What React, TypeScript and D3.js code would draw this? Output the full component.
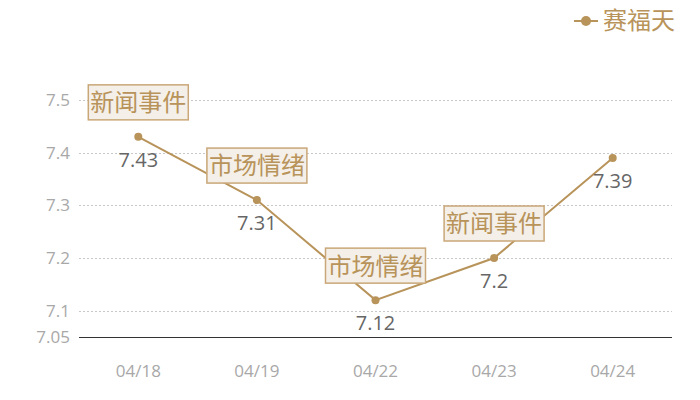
import React, { useEffect, useRef } from 'react';
import * as d3 from 'd3';

const categories = ['04/18', '04/19', '04/22', '04/23', '04/24'];
const values = [7.43, 7.31, 7.12, 7.2, 7.39];
const notes = ['新闻事件', '市场情绪', '市场情绪', '新闻事件', ''];
const yTicks = [7.05, 7.1, 7.2, 7.3, 7.4, 7.5];
const seriesName = '赛福天';

const GOLD = '#b8935a';
const FONT = '"Open Sans", "Noto Sans CJK SC", sans-serif';
const CJK = '"Noto Sans CJK SC", sans-serif';

const App: React.FC = () => {
  const svgRef = useRef<SVGSVGElement>(null);

  useEffect(() => {
    if (!svgRef.current) return;
    const width = 700;
    const height = 400;
    const margin = { top: 100, right: 28, bottom: 63, left: 79 };

    const svg = d3.select(svgRef.current);
    svg.selectAll('*').remove();

    const x = d3.scaleBand()
      .domain(categories)
      .range([margin.left, width - margin.right]);

    const y = d3.scaleLinear()
      .domain([7.05, 7.5])
      .range([height - margin.bottom, margin.top]);

    // grid
    svg.append('g')
      .selectAll('line')
      .data(yTicks.filter(t => t !== 7.05))
      .enter()
      .append('line')
      .attr('x1', margin.left)
      .attr('x2', width - margin.right)
      .attr('y1', d => Math.round(y(d)) + 0.5)
      .attr('y2', d => Math.round(y(d)) + 0.5)
      .attr('stroke', '#c8c8c8')
      .attr('stroke-dasharray', '2,2');

    // baseline
    svg.append('line')
      .attr('x1', margin.left)
      .attr('x2', width - margin.right)
      .attr('y1', Math.round(y(7.05)) + 0.5)
      .attr('y2', Math.round(y(7.05)) + 0.5)
      .attr('stroke', '#333')
      .attr('stroke-width', 1);

    // y labels
    svg.append('g')
      .selectAll('text')
      .data(yTicks)
      .enter()
      .append('text')
      .attr('x', margin.left - 9)
      .attr('y', d => y(d))
      .attr('dy', '0.35em')
      .attr('text-anchor', 'end')
      .attr('fill', '#a8a8a8')
      .attr('font-size', '17px')
      .attr('font-family', FONT)
      .text(d => String(d));

    // x labels
    svg.append('g')
      .selectAll('text')
      .data(categories)
      .enter()
      .append('text')
      .attr('x', d => (x(d) as number) + x.bandwidth() / 2)
      .attr('y', 371)
      .attr('dy', '0.35em')
      .attr('text-anchor', 'middle')
      .attr('fill', '#a8a8a8')
      .attr('font-size', '17px')
      .attr('font-family', FONT)
      .text(d => d);

    const cx = (i: number) => (x(categories[i]) as number) + x.bandwidth() / 2;

    const line = d3.line<number>()
      .x((_, i) => cx(i))
      .y(d => y(d));

    svg.append('path')
      .datum(values)
      .attr('d', line)
      .attr('fill', 'none')
      .attr('stroke', GOLD)
      .attr('stroke-width', 2);

    svg.append('g')
      .selectAll('circle')
      .data(values)
      .enter()
      .append('circle')
      .attr('cx', (_, i) => cx(i))
      .attr('cy', d => y(d))
      .attr('r', 4)
      .attr('fill', GOLD);

    // value labels
    svg.append('g')
      .selectAll('text')
      .data(values)
      .enter()
      .append('text')
      .attr('x', (_, i) => cx(i))
      .attr('y', d => y(d) + 23)
      .attr('dy', '0.35em')
      .attr('text-anchor', 'middle')
      .attr('fill', '#666')
      .attr('font-size', '20px')
      .attr('font-family', FONT)
      .text(d => String(d));

    // note boxes
    const noteG = svg.append('g')
      .selectAll('g')
      .data(values.map((v, i) => ({ v, i, note: notes[i] })).filter(d => d.note))
      .enter()
      .append('g')
      .attr('transform', d => `translate(${cx(d.i)}, ${y(d.v) - 17})`);

    noteG.append('rect')
      .attr('x', -50)
      .attr('y', -35)
      .attr('width', 100)
      .attr('height', 35)
      .attr('fill', '#f4efe8')
      .attr('stroke', '#c9a778')
      .attr('stroke-width', 1.5);

    noteG.append('text')
      .attr('x', 0)
      .attr('y', -17)
      .attr('dy', '0.35em')
      .attr('text-anchor', 'middle')
      .attr('fill', GOLD)
      .attr('font-size', '24px')
      .attr('font-family', CJK)
      .text(d => d.note);

    // legend
    const lg = svg.append('g').attr('transform', 'translate(574, 21)');
    lg.append('line')
      .attr('x1', 0).attr('x2', 24)
      .attr('y1', 0).attr('y2', 0)
      .attr('stroke', GOLD)
      .attr('stroke-width', 2);
    lg.append('circle')
      .attr('cx', 12).attr('cy', 0).attr('r', 5)
      .attr('fill', GOLD);
    lg.append('text')
      .attr('x', 29)
      .attr('y', 0)
      .attr('dy', '0.35em')
      .attr('fill', GOLD)
      .attr('font-size', '24px')
      .attr('font-family', CJK)
      .text(seriesName);
  }, []);

  return (
    <div style={{ width: 700, height: 400, margin: -8, background: '#fff' }}>
      <svg ref={svgRef} width={700} height={400} style={{ display: 'block' }} />
    </div>
  );
};

export default App;
